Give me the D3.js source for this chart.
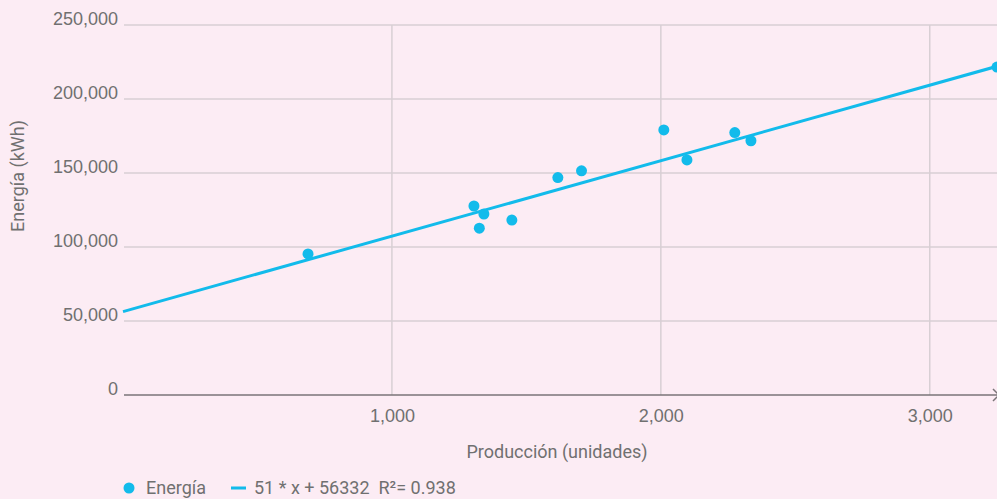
<!DOCTYPE html>
<html>
<head>
<meta charset="utf-8">
<script src="https://cdn.jsdelivr.net/npm/d3@7"></script>
<style>
  html, body { margin: 0; padding: 0; background: #fcecf4; overflow: hidden; }
  svg { display: block; font-family: Roboto, "Open Sans", sans-serif; }
</style>
</head>
<body>
<svg id="chart" width="997" height="499"></svg>
<script>
// Producción (unidades) vs Energía (kWh)
const produccion = [688, 1305, 1325, 1342, 1446, 1617, 1705, 2011, 2097, 2275, 2335, 3250];
const energia = [95300, 127700, 112700, 122300, 118200, 146900, 151500, 179100, 158800, 177300, 171800, 221600];

const xTicks = [1000, 2000, 3000];
const yTicks = [0, 50000, 100000, 150000, 200000, 250000];

// Linear trend: 51 * x + 56332
const slope = 51;
const intercept = 56332;
const r2 = 0.938;

const seriesName = "Energía";
const xTitle = "Producción (unidades)";
const yTitle = "Energía (kWh)";

const svg = d3.select("#chart");
const color = "#12bbeb";
const textColor = "#707070";
const gridColor = "#d8cfd4";
const fs = 18;

const x = d3.scaleLinear().domain([0, 3250]).range([123, 997]);
const y = d3.scaleLinear().domain([0, 250000]).range([395, 25]);
const fmt = d3.format(",");

// horizontal grid + y labels
const yAxis = d3.axisLeft(y).tickValues(yTicks).tickFormat(fmt).tickSize(0).tickPadding(6);
const gy = svg.append("g").attr("transform", "translate(123,0)").call(yAxis);
gy.select(".domain").remove();
gy.selectAll("text")
  .attr("fill", textColor).attr("font-size", fs)
  .attr("dy", "-0.02em").attr("x", -5);
svg.append("g").selectAll("line").data(yTicks.filter(d => d !== 0)).join("line")
  .attr("x1", 124).attr("x2", 997)
  .attr("y1", d => y(d)).attr("y2", d => y(d))
  .attr("stroke", gridColor).attr("stroke-width", 1.5);

// vertical grid
svg.append("g").selectAll("line").data(xTicks).join("line")
  .attr("x1", d => x(d)).attr("x2", d => x(d))
  .attr("y1", y(250000)).attr("y2", y(0))
  .attr("stroke", gridColor).attr("stroke-width", 1.5);

// x axis
const xAxis = d3.axisBottom(x).tickValues(xTicks).tickFormat(fmt).tickSize(0).tickPadding(14);
const gx = svg.append("g").attr("transform", `translate(0,${y(0)})`).call(xAxis);
gx.select(".domain").remove();
gx.selectAll("text").attr("fill", textColor).attr("font-size", fs);
svg.append("line")
  .attr("x1", 124).attr("x2", 997).attr("y1", y(0)).attr("y2", y(0))
  .attr("stroke", "#7a7578").attr("stroke-width", 1.5);
svg.append("path")
  .attr("d", `M${x(3250) - 4},${y(0) - 6} L${x(3250) + 2},${y(0)} L${x(3250) - 4},${y(0) + 6}`)
  .attr("fill", "none").attr("stroke", "#7a7578").attr("stroke-width", 1.5);

// axis titles
svg.append("text").attr("x", 557).attr("y", 458).attr("text-anchor", "middle")
  .attr("fill", textColor).attr("font-size", fs).text(xTitle);
svg.append("text").attr("transform", "translate(24,176) rotate(-90)").attr("text-anchor", "middle")
  .attr("fill", textColor).attr("font-size", fs).text(yTitle);

// trend line
const xs = x.domain();
svg.append("line")
  .attr("x1", x(xs[0])).attr("y1", y(slope * xs[0] + intercept))
  .attr("x2", x(xs[1])).attr("y2", y(slope * xs[1] + intercept))
  .attr("stroke", color).attr("stroke-width", 3);

// points
svg.append("g").selectAll("circle").data(produccion).join("circle")
  .attr("cx", (d) => x(d)).attr("cy", (d, i) => y(energia[i]))
  .attr("r", 5.5).attr("fill", color);

// legend
const lg = svg.append("g");
lg.append("circle").attr("cx", 129).attr("cy", 488).attr("r", 5.5).attr("fill", color);
lg.append("text").attr("x", 146).attr("y", 494).attr("fill", textColor).attr("font-size", fs).text(seriesName);
lg.append("line").attr("x1", 231).attr("x2", 246).attr("y1", 488).attr("y2", 488)
  .attr("stroke", color).attr("stroke-width", 3);
lg.append("text").attr("x", 254).attr("y", 494).attr("fill", textColor).attr("font-size", fs)
  .text(`${slope} * x + ${intercept}  R²= ${r2}`).attr("xml:space", "preserve");
</script>
</body>
</html>
